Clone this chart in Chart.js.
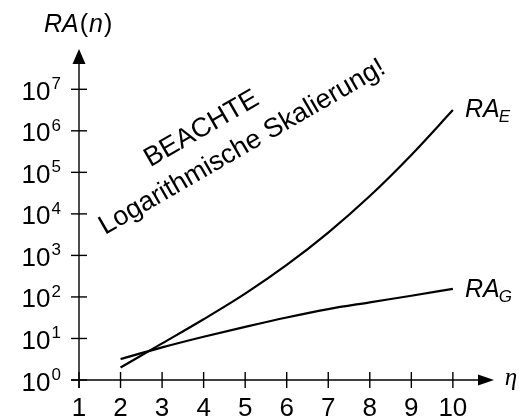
<!DOCTYPE html>
<html>
<head>
<meta charset="utf-8">
<script src="https://cdn.jsdelivr.net/npm/chart.js@4"></script>
<style>
html,body{margin:0;padding:0;background:#fff;}
#wrap{width:519px;height:420px;position:relative;}
</style>
</head>
<body>
<div id="wrap"><canvas id="c"></canvas></div>
<script>
// ---- data ----
const nValues = [2, 3, 4, 5, 6, 7, 8, 9, 10];
const raE = [2, 7.6, 29, 120, 590, 3550, 26900, 263000, 3160000];
const raG = [3.2, 6.1, 11, 19, 32, 51, 74, 107, 156];
const xTickValues = [1, 2, 3, 4, 5, 6, 7, 8, 9, 10];
const xTickLabels = ['1', '2', '3', '4', '5', '6', '7', '8', '9', '10'];
const yTickExponents = [0, 1, 2, 3, 4, 5, 6, 7];
const seriesNames = ['E', 'G'];

const FONT = '"Liberation Sans", Arial, sans-serif';

const axesPlugin = {
  id: 'sketchAxes',
  afterDatasetsDraw(chart) {
    const ctx = chart.ctx;
    const xs = chart.scales.x, ys = chart.scales.y;
    const x0 = xs.getPixelForValue(1);
    const y0 = ys.getPixelForValue(1);
    const xEnd = chart.chartArea.right;
    const yTop = chart.chartArea.top;
    ctx.save();
    ctx.strokeStyle = '#000';
    ctx.fillStyle = '#000';
    ctx.lineWidth = 1.4;
    // x axis
    ctx.beginPath();
    ctx.moveTo(x0 - 8, y0);
    ctx.lineTo(xEnd - 14, y0);
    ctx.stroke();
    ctx.beginPath();
    ctx.moveTo(xEnd, y0);
    ctx.lineTo(xEnd - 16, y0 - 5.5);
    ctx.lineTo(xEnd - 16, y0 + 5.5);
    ctx.closePath();
    ctx.fill();
    // y axis
    ctx.beginPath();
    ctx.moveTo(x0, y0 + 8);
    ctx.lineTo(x0, yTop + 13);
    ctx.stroke();
    ctx.beginPath();
    ctx.moveTo(x0, yTop);
    ctx.lineTo(x0 - 6.5, yTop + 15);
    ctx.lineTo(x0 + 6.5, yTop + 15);
    ctx.closePath();
    ctx.fill();
    // x ticks + labels
    ctx.font = '26px ' + FONT;
    ctx.textAlign = 'center';
    ctx.textBaseline = 'alphabetic';
    xTickValues.forEach((v, i) => {
      const px = xs.getPixelForValue(v);
      ctx.beginPath();
      ctx.moveTo(px, y0 - 8);
      ctx.lineTo(px, y0 + 8);
      ctx.stroke();
      ctx.fillText(xTickLabels[i], px, y0 + 35.5);
    });
    // y ticks + labels
    yTickExponents.forEach(e => {
      const py = ys.getPixelForValue(Math.pow(10, e));
      ctx.beginPath();
      ctx.moveTo(x0 - 8, py);
      ctx.lineTo(x0 + 8, py);
      ctx.stroke();
      ctx.font = '26px ' + FONT;
      ctx.textAlign = 'right';
      ctx.fillText('10', 50.5, py + 10.5);
      ctx.font = '17px ' + FONT;
      ctx.textAlign = 'left';
      ctx.fillText(String(e), 51.5, py);
    });
    // axis titles
    ctx.textAlign = 'left';
    let x = 44;
    const parts = [['RA', 'italic '], ['(', ''], ['n', 'italic '], [')', '']];
    parts.forEach(p => {
      ctx.font = p[1] + '25px ' + FONT;
      ctx.fillText(p[0], x, 32);
      x += ctx.measureText(p[0]).width + 1;
    });
    ctx.font = 'italic 25px "Liberation Serif", "DejaVu Serif", serif';
    ctx.textBaseline = 'middle';
    ctx.textAlign = 'center';
    ctx.fillText('\u03B7', 511, 378);
    // series labels
    ctx.textBaseline = 'alphabetic';
    ctx.textAlign = 'left';
    const lastE = ys.getPixelForValue(raE[raE.length - 1]);
    const lastG = ys.getPixelForValue(raG[raG.length - 1]);
    [[seriesNames[0], lastE + 7], [seriesNames[1], lastG + 8]].forEach(s => {
      ctx.font = 'italic 25px ' + FONT;
      ctx.fillText('RA', 465, s[1]);
      const w = ctx.measureText('RA').width;
      ctx.font = 'italic 17px ' + FONT;
      ctx.fillText(s[0], 464 + w, s[1] + 5);
    });
    // rotated note
    ctx.save();
    ctx.translate(105, 235);
    ctx.rotate(-Math.PI / 6);
    ctx.font = '27px ' + FONT;
    ctx.textAlign = 'left';
    ctx.fillText('Logarithmische Skalierung!', 0, 0);
    ctx.fillText('BEACHTE', 73, -36);
    ctx.restore();
    ctx.restore();
  }
};

const mkPoints = arr => nValues.map((n, i) => ({ x: n, y: arr[i] }));

new Chart(document.getElementById('c'), {
  type: 'line',
  data: {
    datasets: [
      { label: 'RA_E', data: mkPoints(raE), borderColor: '#000', borderWidth: 2.2, pointRadius: 0, cubicInterpolationMode: 'monotone', fill: false },
      { label: 'RA_G', data: mkPoints(raG), borderColor: '#000', borderWidth: 2.2, pointRadius: 0, cubicInterpolationMode: 'monotone', fill: false }
    ]
  },
  options: {
    responsive: true,
    maintainAspectRatio: false,
    animation: false,
    layout: { padding: { left: 79, right: 25, top: 49, bottom: 40 } },
    plugins: { legend: { display: false }, tooltip: { enabled: false } },
    scales: {
      x: { type: 'linear', min: 1, max: 10.99, display: false },
      y: { type: 'logarithmic', min: 1, max: Math.pow(10, 7.97), display: false }
    }
  },
  plugins: [axesPlugin]
});
</script>
</body>
</html>
